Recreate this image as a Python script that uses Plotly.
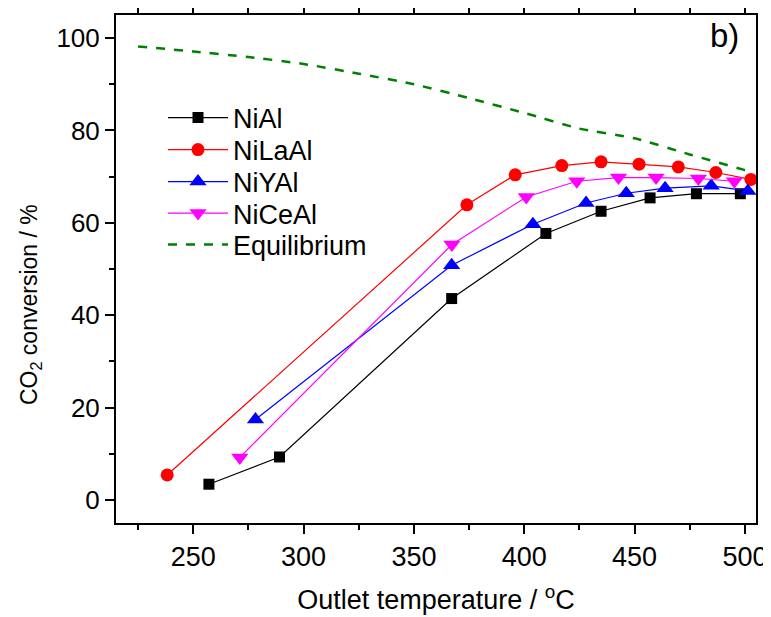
import plotly.graph_objects as go

# ---- data ----
nial_x = [257.1, 289.1, 367.1, 409.8, 434.8, 457.0, 478.0, 497.9]
nial_y = [3.4, 9.3, 43.6, 57.7, 62.5, 65.4, 66.3, 66.3]

nilaal_x = [238.2, 374.0, 395.9, 417.0, 434.8, 452.0, 469.8, 486.8, 502.7]
nilaal_y = [5.4, 63.9, 70.4, 72.4, 73.2, 72.7, 72.1, 70.9, 69.4]

niyal_x = [278.2, 367.1, 403.9, 428.0, 446.2, 463.8, 484.7, 501.3]
niyal_y = [17.4, 50.8, 59.7, 64.3, 66.4, 67.5, 68.0, 66.9]

niceal_x = [271.1, 367.2, 400.9, 423.8, 442.7, 459.7, 478.9, 495.2]
niceal_y = [9.2, 55.3, 65.6, 69.0, 69.8, 69.8, 69.6, 69.0]

eq_x = [225, 250, 275, 300, 325, 350, 375, 400, 425, 450, 475, 500, 503]
eq_y = [98.2, 97.1, 95.9, 94.4, 92.3, 90.0, 87.0, 83.8, 80.4, 78.3, 74.8, 71.4, 71.0]

x_ticks = [250, 300, 350, 400, 450, 500]
y_ticks = [0, 20, 40, 60, 80, 100]

FONT = "Liberation Sans, Arial, sans-serif"
NARROW = "Liberation Sans Narrow, Arial Narrow, Liberation Sans, sans-serif"

# figure geometry (page has an 8px body margin)
W, H = 763, 609
ML, MR, MT, MB = 108, 15, 7, 94
PW = W - ML - MR
PH = H - MT - MB

fig = go.Figure()

legend_names = ["legend", "legend2", "legend3", "legend4", "legend5"]

def add(x, y, name, color, symbol, size, leg):
    fig.add_trace(go.Scatter(
        x=x, y=y, name=name, mode="lines+markers", legend=leg, showlegend=True,
        line=dict(color=color, width=1.2),
        marker=dict(symbol=symbol, size=size, color=color, line=dict(width=0)),
    ))

add(nial_x, nial_y, "NiAl", "#000000", "square", 11, "legend")
add(nilaal_x, nilaal_y, "NiLaAl", "#ff0000", "circle", 13, "legend2")
add(niyal_x, niyal_y, "NiYAl", "#0000ff", "triangle-up", 15, "legend3")
add(niceal_x, niceal_y, "NiCeAl", "#ff00ff", "triangle-down", 15, "legend4")
fig.add_trace(go.Scatter(
    x=eq_x, y=eq_y, name="Equilibrium", mode="lines", legend="legend5", showlegend=True,
    line=dict(color="#008000", width=2.5, dash="dash", shape="spline", smoothing=0.6),
))

axis_common = dict(
    showgrid=False, zeroline=False, showline=True, linecolor="black", linewidth=2,
    ticks="outside", tickcolor="black", tickwidth=1.5, ticklen=9,
    automargin=False,
)

fig.update_xaxes(
    range=[215, 505], tickvals=x_ticks, ticktext=[str(v) for v in x_ticks],
    mirror="ticks",
    tickfont=dict(family=NARROW, size=27, color="black"),
    minor=dict(ticks="outside", dtick=25, tick0=0, ticklen=5, tickwidth=1.5, tickcolor="black"),
    title=dict(text="Outlet temperature / <sup>o</sup>C", font=dict(family=NARROW, size=27, color="black"), standoff=19),
    **axis_common,
)
fig.update_yaxes(
    range=[-5, 105], tickvals=y_ticks, ticktext=[str(v) for v in y_ticks],
    mirror=True,
    tickfont=dict(family=FONT, size=26, color="black"),
    minor=dict(ticks="outside", dtick=10, tick0=0, ticklen=5, tickwidth=1.5, tickcolor="black"),
    **axis_common,
)

def px_to_paper_x(px):
    return (px - 8 - ML) / PW

def px_to_paper_y(py):
    return 1 - (py - 8 - MT) / PH

# y-axis title (placed as rotated text, centred where the reference has it)
fig.add_annotation(
    x=px_to_paper_x(30), y=px_to_paper_y(305), xref="paper", yref="paper",
    xanchor="center", yanchor="middle", textangle=-90, showarrow=False,
    text="CO<sub>2</sub> conversion / %", font=dict(family=FONT, size=23, color="black"),
)

fig.add_annotation(
    x=px_to_paper_x(741), y=1.0, xref="paper", yref="paper", xanchor="right", yanchor="top",
    text="b)", showarrow=False, font=dict(family=FONT, size=33, color="black"),
)

row_centres = [118, 150, 182, 213.5, 245]
layout_legends = {}
for leg, yc in zip(legend_names, row_centres):
    layout_legends[leg] = dict(
        x=px_to_paper_x(163), y=px_to_paper_y(yc), xanchor="left", yanchor="middle",
        bgcolor="rgba(0,0,0,0)", borderwidth=0,
        font=dict(family=FONT, size=27, color="black"),
        itemwidth=60,
    )

fig.update_layout(
    width=W, height=H, showlegend=True,
    margin=dict(l=ML, r=MR, t=MT, b=MB),
    paper_bgcolor="white", plot_bgcolor="white",
    **layout_legends,
)

fig.write_html("out.html")
